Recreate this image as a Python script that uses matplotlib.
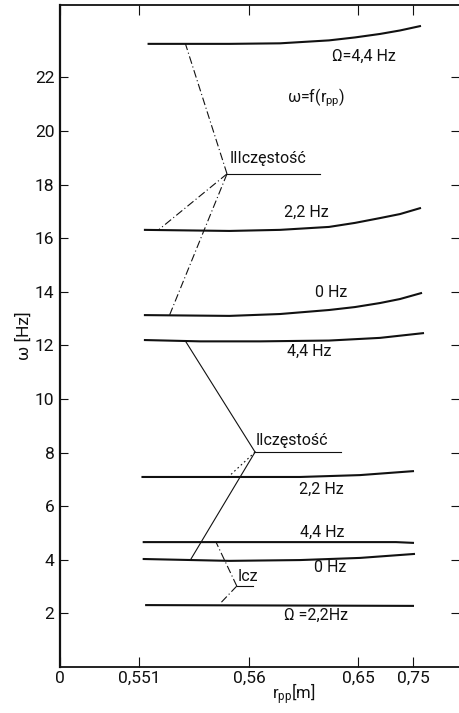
import numpy as np
import matplotlib
matplotlib.use("Agg")
import matplotlib.pyplot as plt
from matplotlib.ticker import FixedLocator, FixedFormatter

plt.rcParams['font.family'] = ['Roboto', 'DejaVu Sans']
plt.rcParams['mathtext.default'] = 'regular'

# ---- axis ticks -------------------------------------------------------
r_ticks = [0.0, 0.551, 0.56, 0.65, 0.75]
r_tick_labels = ['0', '0,551', '0,56', '0,65', '0,75']
w_ticks = [2, 4, 6, 8, 10, 12, 14, 16, 18, 20, 22]

# ---- curves omega = f(r_pp) ---------------------------------------------
# third frequency
r_c1 = [0.5517, 0.5584, 0.5856, 0.6261, 0.6475, 0.69, 0.7264, 0.7645]
w_c1 = [23.25, 23.25, 23.27, 23.38, 23.49, 23.62, 23.75, 23.92]   # Omega = 4.4 Hz
r_c2 = [0.5514, 0.5584, 0.5856, 0.6261, 0.6475, 0.69, 0.7264, 0.7645]
w_c2 = [16.31, 16.27, 16.31, 16.42, 16.57, 16.75, 16.90, 17.13]   # 2.2 Hz
r_c3 = [0.5514, 0.5584, 0.5856, 0.6261, 0.6475, 0.69, 0.7264, 0.7664]
w_c3 = [13.13, 13.10, 13.17, 13.32, 13.43, 13.58, 13.73, 13.96]   # 0 Hz
# second frequency
r_c4 = [0.5514, 0.5560, 0.5691, 0.6261, 0.69, 0.77]
w_c4 = [12.20, 12.15, 12.15, 12.18, 12.28, 12.46]                 # 4.4 Hz
r_c5 = [0.5512, 0.5584, 0.6021, 0.6536, 0.7518]
w_c5 = [7.09, 7.09, 7.09, 7.16, 7.31]                             # 2.2 Hz
# first frequency
r_c6 = [0.5513, 0.7191, 0.7518]
w_c6 = [4.66, 4.66, 4.63]                                         # 4.4 Hz
r_c7 = [0.5513, 0.5584, 0.6021, 0.6536, 0.7536]
w_c7 = [4.03, 3.96, 3.99, 4.07, 4.22]                             # 0 Hz
r_c8 = [0.5515, 0.7518]
w_c8 = [2.31, 2.28]                                               # Omega = 2.2 Hz

curves = [(r_c1, w_c1), (r_c2, w_c2), (r_c3, w_c3), (r_c4, w_c4),
          (r_c5, w_c5), (r_c6, w_c6), (r_c7, w_c7), (r_c8, w_c8)]

# ---- frequency group labels with leader lines ---------------------------
r_lab3, w_lab3, r_lab3_end = 0.5582, 18.40, 0.6186
r_lead3 = [0.5548, 0.5526, 0.5535]
w_lead3 = [23.25, 16.31, 13.13]

r_lab2, w_lab2, r_lab2_end = 0.5650, 8.02, 0.6360
r_lead2 = [0.5548, 0.5552, 0.5583]
w_lead2 = [12.16, 3.99, 7.09]

r_lab1, w_lab1, r_lab1_end = 0.5590, 3.02, 0.5632
r_lead1 = [0.5573, 0.5576]
w_lead1 = [4.66, 2.35]

# ---- nonlinear r_pp axis (tick spacing as on the drawing) ---------------
tick_pos = [0.0, 79.0, 189.0, 298.0, 353.0]
slope_hi = (tick_pos[-1] - tick_pos[-2]) / (r_ticks[-1] - r_ticks[-2])
slope_lo = (tick_pos[1] - tick_pos[0]) / (r_ticks[1] - r_ticks[0])


def fwd(r):
    r = np.asarray(r, dtype=float)
    out = np.interp(r, r_ticks, tick_pos)
    out = np.where(r > r_ticks[-1], tick_pos[-1] + (r - r_ticks[-1]) * slope_hi, out)
    out = np.where(r < r_ticks[0], tick_pos[0] + (r - r_ticks[0]) * slope_lo, out)
    return out


def inv(p):
    p = np.asarray(p, dtype=float)
    out = np.interp(p, tick_pos, r_ticks)
    out = np.where(p > tick_pos[-1], r_ticks[-1] + (p - tick_pos[-1]) / slope_hi, out)
    out = np.where(p < tick_pos[0], r_ticks[0] + (p - tick_pos[0]) / slope_lo, out)
    return out


fig = plt.figure(figsize=(4.59, 7.13), dpi=100)
ax = fig.add_axes([60 / 459, 46 / 713, 399 / 459, 662 / 713])
ax.set_xscale('function', functions=(fwd, inv))
ax.set_xlim(0, 0.8336)
ax.set_ylim(0, 24.7)

ink = '#111111'
for r, w in curves:
    ax.plot(r, w, color=ink, lw=1.5, solid_capstyle='butt')

thin = dict(color=ink, lw=0.8)
dashdot = (0, (7, 2.5, 1, 2.5))

# III frequency
ax.plot([r_lab3, r_lab3_end], [w_lab3, w_lab3], **thin)
for rr, ww in zip(r_lead3, w_lead3):
    ax.plot([r_lab3, rr], [w_lab3, ww], ls=dashdot, **thin)
ax.text(r_lab3 + 0.0002, w_lab3 + 0.3, 'IIIczęstość', fontsize=11.5,
        ha='left', va='bottom', color=ink)

# II frequency
ax.plot([r_lab2, r_lab2_end], [w_lab2, w_lab2], **thin)
ax.plot([r_lab2, r_lead2[0]], [w_lab2, w_lead2[0]], **thin)
ax.plot([r_lab2, r_lead2[1]], [w_lab2, w_lead2[1]], **thin)
ax.plot([r_lab2, r_lead2[2]], [w_lab2, w_lead2[2]], ls=(0, (1.5, 2.5)), **thin)
ax.text(r_lab2 + 0.0002, w_lab2 + 0.15, 'IIczęstość', fontsize=11.5,
        ha='left', va='bottom', color=ink)

# I frequency
ax.plot([r_lab1, r_lab1_end], [w_lab1, w_lab1], **thin)
for rr, ww in zip(r_lead1, w_lead1):
    ax.plot([r_lab1, rr], [w_lab1, ww], ls=dashdot, **thin)
ax.text(r_lab1 + 0.0001, w_lab1 + 0.08, 'Icz', fontsize=11.5,
        ha='left', va='bottom', color=ink)

# curve annotations
notes = [
    (0.6600, 22.80, 'Ω=4,4 Hz'),
    (0.6153, 21.23, 'ω=f(r$_{pp}$)'),
    (0.6071, 16.98, '2,2 Hz'),
    (0.6277, 13.99, '0 Hz'),
    (0.6095, 11.79, '4,4 Hz'),
    (0.6194, 6.64, '2,2 Hz'),
    (0.6203, 5.04, '4,4 Hz'),
    (0.6269, 3.73, '0 Hz'),
    (0.6153, 1.94, 'Ω =2,2Hz'),
]
for rr, ww, s in notes:
    ax.text(rr, ww, s, fontsize=11.5, ha='center', va='center', color=ink)

# axes frame and ticks
ax.spines['right'].set_visible(False)
ax.spines['left'].set_linewidth(1.6)
ax.spines['bottom'].set_linewidth(1.3)
ax.spines['top'].set_linewidth(1.3)
for s in ax.spines.values():
    s.set_color(ink)

ax.xaxis.set_major_locator(FixedLocator(r_ticks))
ax.xaxis.set_major_formatter(FixedFormatter(r_tick_labels))
ax.xaxis.set_minor_locator(FixedLocator([]))
ax.set_yticks(w_ticks)
ax.set_yticklabels([str(t) for t in w_ticks])
ax.tick_params(axis='x', direction='in', top=True, length=7, width=0.8,
               labelsize=12.5, pad=3, colors=ink)
ax.tick_params(axis='y', direction='in', right=True, length=6, width=0.8,
               labelsize=12.5, pad=4, colors=ink)

ax.set_xlabel('r$_{pp}$[m]', fontsize=12, color=ink)
ax.xaxis.set_label_coords(0.585, -0.021)
ax.set_ylabel('ω [Hz]', fontsize=12.5, labelpad=2, color=ink)

fig.savefig('out.png', dpi=100)
